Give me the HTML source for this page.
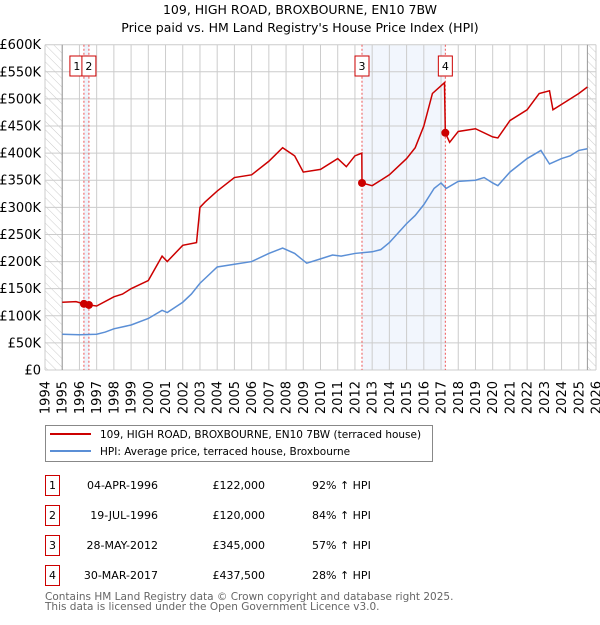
<!DOCTYPE html>
<html><head><meta charset="utf-8"><style>
body{margin:0;background:#fff;font-family:"Liberation Sans","DejaVu Sans",sans-serif;}
svg text{font-family:"DejaVu Sans","Liberation Sans",sans-serif;}
</style></head><body>
<svg id="c" width="600" height="620" xmlns="http://www.w3.org/2000/svg">
<defs><pattern id="hatch" width="6" height="6" patternUnits="userSpaceOnUse" patternTransform="rotate(-45)"><line x1="0" y1="0" x2="0" y2="6" stroke="#ccc" stroke-width="1"/></pattern></defs>
<text x="300" y="14" text-anchor="middle" font-size="12.5">109, HIGH ROAD, BROXBOURNE, EN10 7BW</text>
<text x="300" y="32" text-anchor="middle" font-size="12.5">Price paid vs. HM Land Registry's House Price Index (HPI)</text>
<g id="plot"></g>
<g>
<rect x="45.5" y="425.5" width="387" height="36" fill="#fff" stroke="#888"/>
<line x1="50" y1="434" x2="91" y2="434" stroke="#cc0000" stroke-width="2"/>
<text x="100" y="438" font-size="10.5">109, HIGH ROAD, BROXBOURNE, EN10 7BW (terraced house)</text>
<line x1="50" y1="451" x2="91" y2="451" stroke="#5b8fd6" stroke-width="2"/>
<text x="100" y="455" font-size="10.5">HPI: Average price, terraced house, Broxbourne</text>
</g>
<g id="tbl" font-size="11"></g>
<text x="45" y="600" font-size="10.5" fill="#666">Contains HM Land Registry data © Crown copyright and database right 2025.</text>
<text x="45" y="610" font-size="10.5" fill="#666">This data is licensed under the Open Government Licence v3.0.</text>
</svg>
<script>
const yTicks=[0,50000,100000,150000,200000,250000,300000,350000,400000,450000,500000,550000,600000];
const yTickLabels=["£0","£50K","£100K","£150K","£200K","£250K","£300K","£350K","£400K","£450K","£500K","£550K","£600K"];
const years=[1994,1995,1996,1997,1998,1999,2000,2001,2002,2003,2004,2005,2006,2007,2008,2009,2010,2011,2012,2013,2014,2015,2016,2017,2018,2019,2020,2021,2022,2023,2024,2025,2026];
const hpiT=[1995,1996,1997,1997.5,1998,1999,2000,2000.8,2001.1,2002,2002.5,2003,2003.5,2004,2005,2006,2007,2007.8,2008.5,2009.2,2010,2010.7,2011.2,2012,2013,2013.5,2014,2015,2015.5,2016,2016.6,2017,2017.3,2018,2019,2019.5,2020,2020.3,2021,2022,2022.8,2023.3,2024,2024.5,2025,2025.5];
const hpiV=[66000,65000,66000,70000,76000,83000,95000,110000,106000,125000,140000,160000,175000,190000,195000,200000,215000,225000,215000,197000,205000,212000,210000,215000,218000,222000,235000,270000,285000,305000,335000,345000,335000,348000,350000,355000,345000,340000,365000,390000,405000,380000,390000,395000,405000,408000];
const ppT=[1995,1995.8,1996.26,1996.55,1997,1998,1998.5,1999,2000,2000.8,2001.1,2002,2002.8,2003,2003.3,2004,2005,2006,2007,2007.8,2008.5,2009,2010,2011,2011.5,2012,2012.4,2012.41,2013,2014,2015,2015.5,2016,2016.5,2017.2,2017.25,2017.5,2018,2019,2020,2020.3,2021,2022,2022.7,2023.3,2023.5,2024,2025,2025.5];
const ppV=[125000,126000,122000,120000,118000,135000,140000,150000,165000,210000,200000,230000,235000,300000,310000,330000,355000,360000,385000,410000,395000,365000,370000,390000,375000,395000,400000,345000,340000,360000,390000,410000,450000,510000,530000,437500,420000,440000,445000,430000,428000,460000,480000,510000,515000,480000,490000,510000,522000];
const saleT=[1996.26,1996.55,2012.41,2017.25];
const saleV=[122000,120000,345000,437500];
const saleLabels=["1","2","3","4"];
const saleDates=["04-APR-1996","19-JUL-1996","28-MAY-2012","30-MAR-2017"];
const salePrices=["£122,000","£120,000","£345,000","£437,500"];
const saleHpi=["92% ↑ HPI","84% ↑ HPI","57% ↑ HPI","28% ↑ HPI"];
const NS="http://www.w3.org/2000/svg";
const L=45,R=596,T=44.7,B=370;
const x=t=>L+(t-1994)/(2026-1994)*(R-L);
const y=v=>B-v/600000*(B-T);
const g=document.getElementById('plot');
function mk(tag,at,par){const e=document.createElementNS(NS,tag);for(const k in at)e.setAttribute(k,at[k]);(par||g).appendChild(e);return e;}
let e=mk('rect',{x:L,y:T,width:x(1995)-L,height:B-T,fill:'url(#hatch)'});


e=mk('rect',{x:x(2025.5),y:T,width:R-x(2025.5),height:B-T,fill:'url(#hatch)'});


e=mk('rect',{x:x(saleT[0]),y:T,width:x(saleT[1])-x(saleT[0]),height:B-T,fill:'#eef3fc'});


e=mk('rect',{x:x(saleT[2]),y:T,width:x(saleT[3])-x(saleT[2]),height:B-T,fill:'#f2f6fd'});


yTicks.forEach((v,i)=>{
 e=mk('line',{x1:L,x2:R,y1:y(v),y2:y(v),stroke:'#ccc','stroke-width':1});
 
 
 e=mk('text',{x:L-4,y:y(v)+4.5,'text-anchor':'end','font-size':'13'});
 e.textContent=yTickLabels[i];
 
 
});
years.forEach(yr=>{
 e=mk('line',{x1:x(yr),x2:x(yr),y1:T,y2:B,stroke:'#ccc','stroke-width':1});
 
 
 e=mk('text',{transform:`translate(${x(yr)+4.5},381) rotate(-90)`,'text-anchor':'end','font-size':'13'});
 e.textContent=yr;
 
 
});
e=mk('line',{x1:x(1995),x2:x(1995),y1:T,y2:B,stroke:'#999'});


e=mk('line',{x1:x(2025.5),x2:x(2025.5),y1:T,y2:B,stroke:'#999'});


saleT.forEach((t,i)=>{
 e=mk('line',{x1:x(t),x2:x(t),y1:T,y2:B,stroke:'#e55','stroke-dasharray':'2,2','stroke-width':1});
 
 
});
e=mk('polyline',{points:hpiT.map((t,i)=>x(t)+','+y(hpiV[i])).join(' '),fill:'none',stroke:'#5b8fd6','stroke-width':1.5});


e=mk('polyline',{points:ppT.map((t,i)=>x(t)+','+y(ppV[i])).join(' '),fill:'none',stroke:'#cc0000','stroke-width':1.5});


saleT.forEach((t,i)=>{
 e=mk('circle',{cx:x(t),cy:y(saleV[i]),r:4,fill:'#cc0000'});
 
 
 const lx=i==0?x(t)-14:x(t)-7;
 e=mk('rect',{x:lx,y:56,width:14,height:20,fill:'#fff',stroke:'#cc0000'});
 
 
 e=mk('text',{x:lx+7,y:70,'text-anchor':'middle','font-size':'11'});
 e.textContent=saleLabels[i];
 
 
});
const tb=document.getElementById('tbl');
saleLabels.forEach((s,i)=>{
 const ry=475+i*30;
 e=mk('rect',{x:45.5,y:ry+0.5,width:14,height:20,fill:'#fff',stroke:'#cc0000'},tb);
 
 
 e=mk('text',{x:52.5,y:ry+14,'text-anchor':'middle'},tb);e.textContent=s;
 
 
 e=mk('text',{x:158,y:ry+14,'text-anchor':'end'},tb);e.textContent=saleDates[i];
 
 
 e=mk('text',{x:265,y:ry+14,'text-anchor':'end'},tb);e.textContent=salePrices[i];
 
 
 e=mk('text',{x:312,y:ry+14},tb);e.textContent=saleHpi[i];
 
 
});
</script>
</body></html>
